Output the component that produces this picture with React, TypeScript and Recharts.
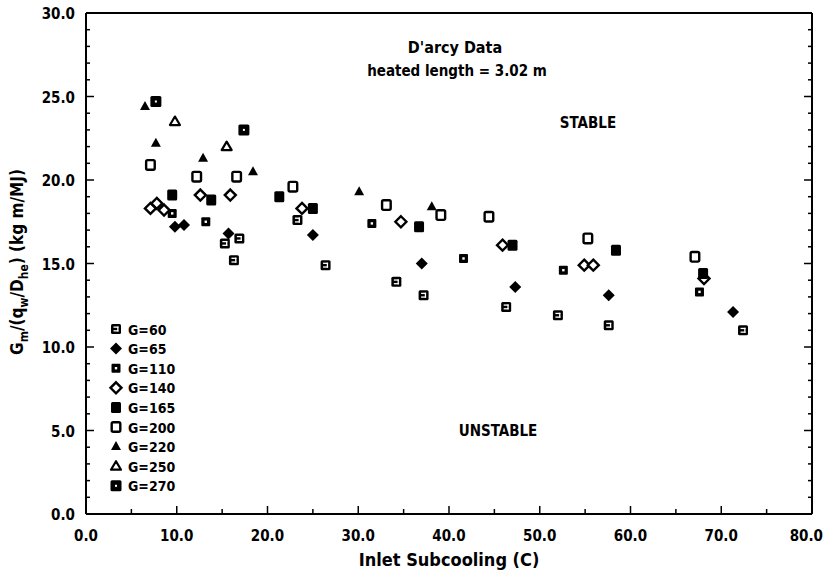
import React from "react";
import { ScatterChart, Scatter, XAxis, YAxis } from "recharts";

// [inlet subcooling (C), Gm/(qw/Dhe) (kg m/MJ)]
const g60: number[][] = [
  [15.3, 16.2], [16.9, 16.5], [16.3, 15.2], [23.3, 17.6], [26.4, 14.9],
  [34.2, 13.9], [37.2, 13.1], [46.3, 12.4], [52.0, 11.9], [57.6, 11.3], [72.4, 11.0],
];
const g65: number[][] = [
  [9.8, 17.2], [10.8, 17.3], [15.7, 16.8], [25.0, 16.7], [37.0, 15.0],
  [47.3, 13.6], [57.6, 13.1], [71.3, 12.1],
];
const g110: number[][] = [
  [9.5, 18.0], [13.2, 17.5], [31.5, 17.4], [41.6, 15.3], [52.6, 14.6], [67.6, 13.3],
];
const g140: number[][] = [
  [7.1, 18.3], [7.8, 18.6], [8.6, 18.2], [12.6, 19.1], [15.9, 19.1], [23.8, 18.3],
  [34.7, 17.5], [45.9, 16.1], [54.9, 14.9], [55.9, 14.9], [68.1, 14.1],
];
const g165: number[][] = [
  [9.5, 19.1], [13.8, 18.8], [21.3, 19.0], [25.0, 18.3], [36.7, 17.2],
  [47.0, 16.1], [58.4, 15.8], [68.0, 14.4],
];
const g200: number[][] = [
  [7.1, 20.9], [12.2, 20.2], [16.6, 20.2], [22.8, 19.6], [33.1, 18.5],
  [39.1, 17.9], [44.4, 17.8], [55.3, 16.5], [67.1, 15.4],
];
const g220: number[][] = [
  [6.5, 24.4], [7.7, 22.2], [12.9, 21.3], [18.4, 20.5], [30.1, 19.3], [38.1, 18.4],
];
const g250: number[][] = [[9.8, 23.5], [15.5, 22.0]];
const g270: number[][] = [[7.7, 24.7], [17.4, 23.0]];

const xTicks = [0, 5, 10, 15, 20, 25, 30, 35, 40, 45, 50, 55, 60, 65, 70, 75, 80];
const yTicks = Array.from({ length: 31 }, (_, i) => i);

const FONT = "'DejaVu Sans Condensed', 'DejaVu Sans', sans-serif";

type Kind =
  | "checkSquare" | "diamond" | "dotSquare" | "openDiamond" | "square"
  | "openSquare" | "triangle" | "openTriangle" | "bigDotSquare";

const series: { name: string; data: number[][]; kind: Kind }[] = [
  { name: "G=60", data: g60, kind: "checkSquare" },
  { name: "G=65", data: g65, kind: "diamond" },
  { name: "G=110", data: g110, kind: "dotSquare" },
  { name: "G=140", data: g140, kind: "openDiamond" },
  { name: "G=165", data: g165, kind: "square" },
  { name: "G=200", data: g200, kind: "openSquare" },
  { name: "G=220", data: g220, kind: "triangle" },
  { name: "G=250", data: g250, kind: "openTriangle" },
  { name: "G=270", data: g270, kind: "bigDotSquare" },
];

function marker(kind: Kind, cx: number, cy: number) {
  switch (kind) {
    case "checkSquare":
      return (
        <g>
          <rect x={cx - 5} y={cy - 5} width={10} height={10} rx={1.5} fill="#000" />
          <rect x={cx - 2.5} y={cy - 2.5} width={5} height={1.3} fill="#fff" />
          <rect x={cx - 2.5} y={cy + 1.2} width={5} height={1.3} fill="#fff" />
          <rect x={cx + 1.2} y={cy - 2.5} width={1.3} height={5} fill="#fff" />
        </g>
      );
    case "diamond":
      return <path d={`M${cx},${cy - 6}L${cx + 6},${cy}L${cx},${cy + 6}L${cx - 6},${cy}Z`} fill="#000" />;
    case "dotSquare":
      return (
        <g>
          <rect x={cx - 4.5} y={cy - 4.5} width={9} height={9} rx={1} fill="#000" />
          <rect x={cx - 1.2} y={cy - 1.2} width={2.4} height={2.4} fill="#fff" />
        </g>
      );
    case "openDiamond":
      return (
        <path
          d={`M${cx},${cy - 5.5}L${cx + 5.5},${cy}L${cx},${cy + 5.5}L${cx - 5.5},${cy}Z`}
          fill="#fff" stroke="#000" strokeWidth={2.4}
        />
      );
    case "square":
      return <rect x={cx - 5} y={cy - 5.5} width={10} height={11} rx={1.5} fill="#000" />;
    case "openSquare":
      return <rect x={cx - 4.3} y={cy - 4.8} width={8.6} height={9.6} rx={1.5} fill="#fff" stroke="#000" strokeWidth={2.4} />;
    case "triangle":
      return <path d={`M${cx},${cy - 5.5}L${cx + 5},${cy + 3.5}L${cx - 5},${cy + 3.5}Z`} fill="#000" />;
    case "openTriangle":
      return (
        <path
          d={`M${cx},${cy - 5}L${cx + 5},${cy + 3.5}L${cx - 5},${cy + 3.5}Z`}
          fill="#fff" stroke="#000" strokeWidth={2.2} strokeLinejoin="round"
        />
      );
    case "bigDotSquare":
      return (
        <g>
          <rect x={cx - 5.5} y={cy - 5.5} width={11} height={11} rx={1.5} fill="#000" />
          <rect x={cx - 1} y={cy - 1} width={2} height={2} fill="#fff" />
        </g>
      );
  }
}

const tickText = { fontFamily: FONT, fontWeight: 700, fontSize: 15, fill: "#000" };

const BottomTick = (props: any) => {
  const { x, y, payload } = props;
  const major = payload.value % 10 === 0;
  const last = payload.value === 80;
  return (
    <g>
      <line x1={x} x2={x} y1={y} y2={y - (major ? 8 : 5)} stroke="#000" strokeWidth={1.5} />
      {major && (
        <text x={last ? 823 : x} y={y + 27} textAnchor={last ? "end" : "middle"} style={tickText}>
          {payload.value.toFixed(1)}
        </text>
      )}
    </g>
  );
};

const TopTick = (props: any) => {
  const { x, y, payload } = props;
  const major = payload.value % 10 === 0;
  return <line x1={x} x2={x} y1={y} y2={y + (major ? 8 : 5)} stroke="#000" strokeWidth={1.5} />;
};

const LeftTick = (props: any) => {
  const { x, y, payload } = props;
  const major = payload.value % 5 === 0;
  return (
    <g>
      <line x1={x} x2={x + (major ? 8 : 4)} y1={y} y2={y} stroke="#000" strokeWidth={1.5} />
      {major && (
        <text x={x - 11} y={y + 6} textAnchor="end" style={tickText}>
          {payload.value.toFixed(1)}
        </text>
      )}
    </g>
  );
};

const RightTick = (props: any) => {
  const { x, y, payload } = props;
  const major = payload.value % 5 === 0;
  return <line x1={x} x2={x - (major ? 8 : 4)} y1={y} y2={y} stroke="#000" strokeWidth={1.5} />;
};

const label = { fontFamily: FONT, fontWeight: 700, fill: "#000" };

export default function App() {
  return (
    <div style={{ position: "absolute", left: 0, top: 0, background: "#fff" }}>
      <ScatterChart width={824} height={573} margin={{ top: 0, right: 0, bottom: 0, left: 0 }}>
        <XAxis
          xAxisId="b" type="number" dataKey="x" domain={[0, 80]} ticks={xTicks} orientation="bottom"
          height={59} tickSize={0} tickMargin={0} tickLine={false} tick={<BottomTick />}
          axisLine={{ stroke: "#000", strokeWidth: 2 }} interval={0} allowDataOverflow
        />
        <XAxis
          xAxisId="t" type="number" domain={[0, 80]} ticks={xTicks} orientation="top"
          height={13} tickSize={0} tickMargin={0} tickLine={false} tick={<TopTick />}
          axisLine={{ stroke: "#000", strokeWidth: 2 }} interval={0} allowDataOverflow
        />
        <YAxis
          yAxisId="l" type="number" dataKey="y" domain={[0, 30]} ticks={yTicks} orientation="left"
          width={86} tickSize={0} tickMargin={0} tickLine={false} tick={<LeftTick />}
          axisLine={{ stroke: "#000", strokeWidth: 2 }} interval={0} allowDataOverflow
        />
        <YAxis
          yAxisId="r" type="number" domain={[0, 30]} ticks={yTicks} orientation="right"
          width={12} tickSize={0} tickMargin={0} tickLine={false} tick={<RightTick />}
          axisLine={{ stroke: "#000", strokeWidth: 2 }} interval={0} allowDataOverflow
        />
        {series.map((s) => (
          <Scatter
            key={s.name}
            name={s.name}
            xAxisId="b"
            yAxisId="l"
            data={s.data.map(([x, y]) => ({ x, y }))}
            shape={(p: any) => marker(s.kind, p.cx, p.cy)}
            isAnimationActive={false}
          />
        ))}
        <g>
          {series.map((s, i) => (
            <g key={s.name}>
              {marker(s.kind, 116, 329 + i * 19.6)}
              <text x={128} y={334.5 + i * 19.6} style={{ ...label, fontSize: 14 }}>
                {s.name}
              </text>
            </g>
          ))}
        </g>
        <text x={455} y={53} textAnchor="middle" style={{ ...label, fontSize: 16 }}>D'arcy Data</text>
        <text x={457} y={76} textAnchor="middle" style={{ ...label, fontSize: 15 }}>heated length = 3.02 m</text>
        <text x={588} y={128} textAnchor="middle" style={{ ...label, fontSize: 15 }}>STABLE</text>
        <text x={498} y={436} textAnchor="middle" style={{ ...label, fontSize: 15 }}>UNSTABLE</text>
        <text x={449} y={566} textAnchor="middle" style={{ ...label, fontSize: 18 }}>Inlet Subcooling (C)</text>
        <text transform="translate(23,262) rotate(-90)" textAnchor="middle" style={{ ...label, fontSize: 17 }}>
          G<tspan fontSize={12} dy={5}>m</tspan>
          <tspan dy={-5}>/(q</tspan>
          <tspan fontSize={12} dy={5}>w</tspan>
          <tspan dy={-5}>/D</tspan>
          <tspan fontSize={12} dy={5}>he</tspan>
          <tspan dy={-5}>) (kg m/MJ)</tspan>
        </text>
      </ScatterChart>
    </div>
  );
}
